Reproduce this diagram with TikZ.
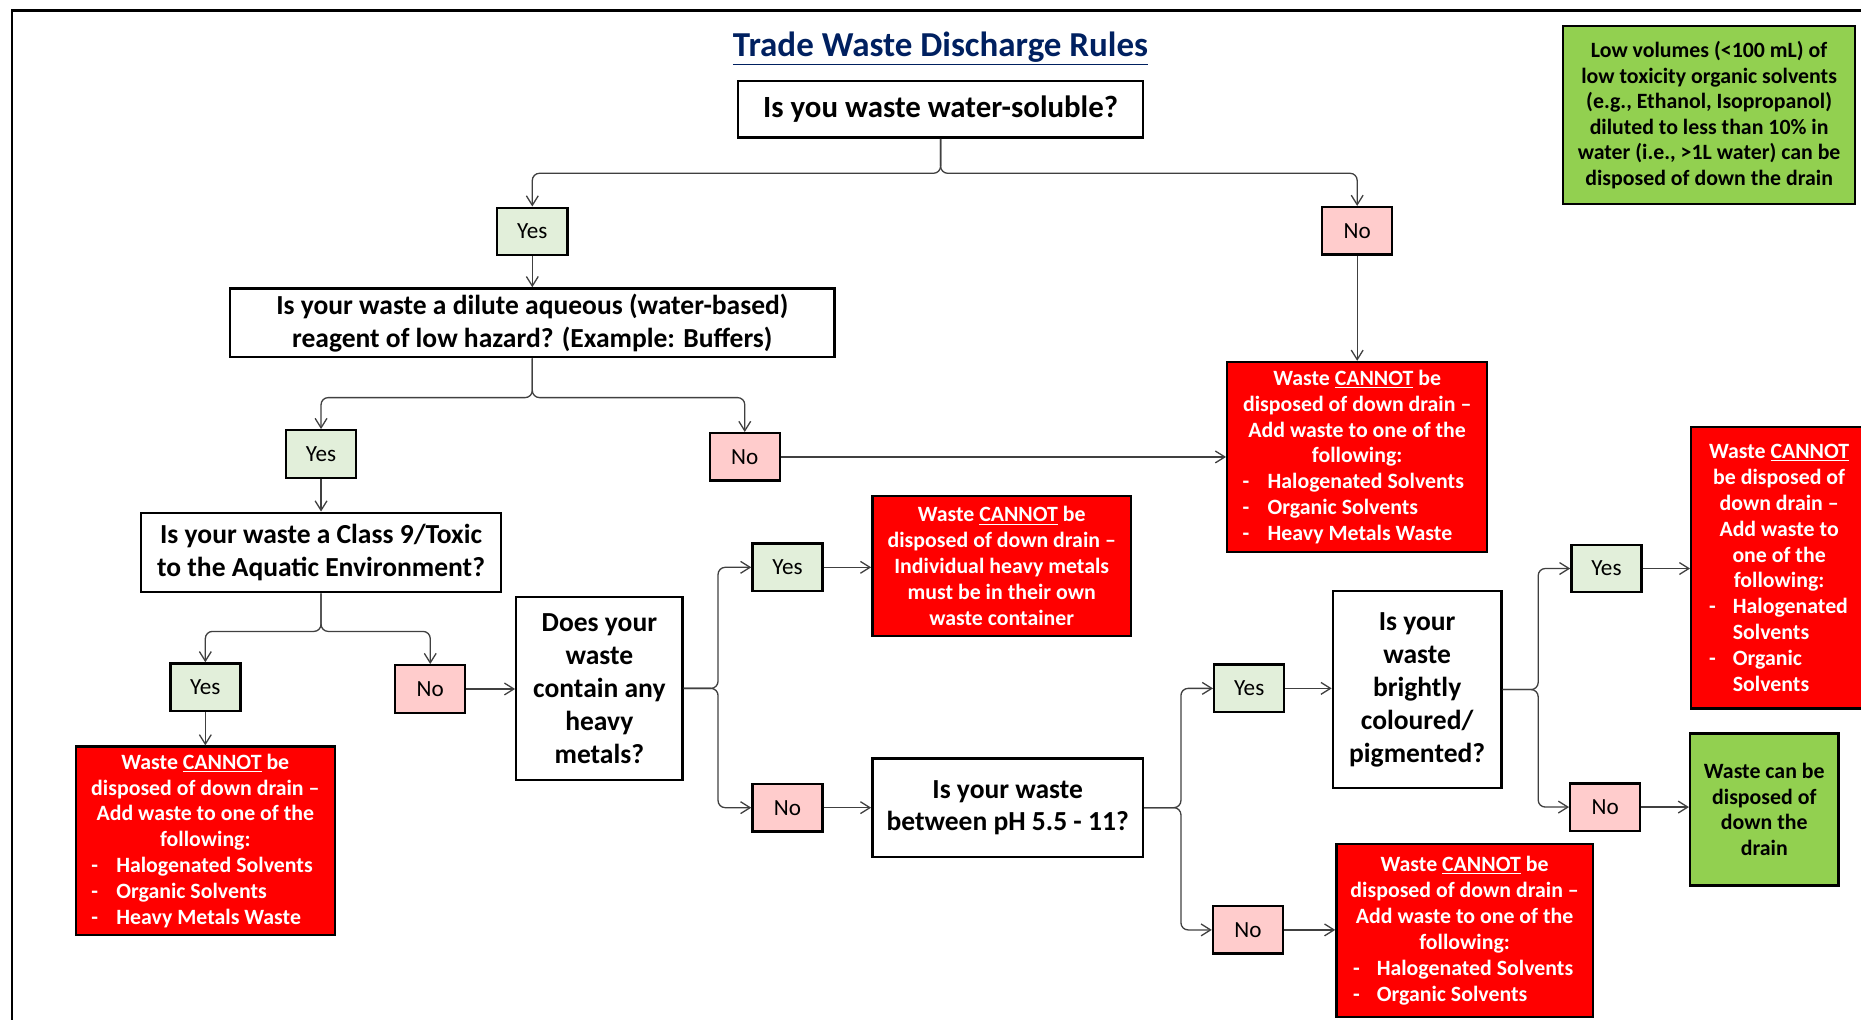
\documentclass[tikz,border=0pt]{standalone}
\usepackage{fontspec}
\setmainfont{Carlito}
\usetikzlibrary{arrows.meta,calc}
\definecolor{navy}{RGB}{0,32,96}
\definecolor{yesfill}{RGB}{226,239,218}
\definecolor{nofill}{RGB}{255,204,204}
\definecolor{grn}{RGB}{146,208,80}
\definecolor{connc}{RGB}{64,64,64}
\newcommand\qf{\fontsize{23.2}{27.5}\selectfont\bfseries}
\newcommand\qtf{\fontsize{23.2}{27.8}\selectfont\bfseries}
\newcommand\rf{\fontsize{18.4}{21.8}\selectfont\bfseries}
\newcommand\gf{\fontsize{18.4}{21.5}\selectfont\bfseries}
\newcommand\ynf{\fontsize{19.5}{22}\selectfont}
\newcommand\ritem[3]{\makebox[#1][l]{\hspace{#2}#3}}
\begin{document}
\begin{tikzpicture}[x=1pt,y=-1pt,
 box/.style={draw=black, line width=2pt, inner sep=0pt, align=center},
 qbox/.style={box, fill=white, font=\qf},
 yesbox/.style={box, fill=yesfill, font=\ynf, minimum width=59pt, minimum height=40pt},
 nobox/.style={box, fill=nofill, font=\ynf, minimum width=59pt, minimum height=40pt},
 redbox/.style={box, fill=red, text=white, font=\rf},
 grnbox/.style={box, fill=grn, text=black, font=\gf},
 conn/.style={draw=connc, line width=1.1pt, -{Straight Barb[length=8pt,width=10pt]}},
 brace/.style={conn, rounded corners=6pt}]
\useasboundingbox (0,0) rectangle (1568,859);
\begin{scope}
\clip (0,0) rectangle (1568,859);
\draw[line width=2pt] (10,880) -- (10,9) -- (1590,9);

\node[font=\fontsize{29.5}{34}\selectfont\bfseries, text=navy] (title) at (792.5,41) {\underline{Trade Waste Discharge Rules}};

\node[qbox, font=\fontsize{26}{30}\selectfont\bfseries, minimum width=341pt, minimum height=48pt] (q1) at (792.5,92) {Is you waste water-soluble?};
\node[yesbox] (y1) at (448.5,195) {Yes};
\node[nobox] (n1) at (1143.5,194.5) {No};
\node[qbox, minimum width=509pt, minimum height=58pt] (q2) at (448.5,272) {Is your waste a dilute aqueous (water-based)\\reagent of low hazard? (Example: Buffers)};
\node[redbox, minimum width=219pt, minimum height=160pt] (r1) at (1143.5,385) {Waste \underline{CANNOT} be\\disposed of down drain –\\Add waste to one of the\\following:\\\ritem{207pt}{7pt}{\makebox[21pt][l]{-}Halogenated Solvents}\\\ritem{207pt}{7pt}{\makebox[21pt][l]{-}Organic Solvents}\\\ritem{207pt}{7pt}{\makebox[21pt][l]{-}Heavy Metals Waste}};

\node[yesbox] (y2) at (270.5,382.5) {Yes};
\node[nobox] (n2) at (627.5,385) {No};
\node[qbox, minimum width=303pt, minimum height=67pt] (q3) at (270.5,465.5) {Is your waste a Class 9/Toxic\\to the Aquatic Environment?};
\node[yesbox] (y3) at (173,579) {Yes};
\node[nobox] (n3) at (362.5,580.5) {No};
\node[redbox, minimum width=218pt, minimum height=159pt] (r2) at (173,708.5) {Waste \underline{CANNOT} be\\disposed of down drain –\\Add waste to one of the\\following:\\\ritem{206pt}{7pt}{\makebox[21pt][l]{-}Halogenated Solvents}\\\ritem{206pt}{7pt}{\makebox[21pt][l]{-}Organic Solvents}\\\ritem{206pt}{7pt}{\makebox[21pt][l]{-}Heavy Metals Waste}};

\node[qbox, font=\qtf, minimum width=140pt, minimum height=154pt] (q4) at (505,580) {Does your\\waste\\contain any\\heavy\\metals?};
\node[yesbox] (y4) at (663.5,478) {Yes};
\node[nobox] (n4) at (663.5,680.5) {No};
\node[redbox, minimum width=218pt, minimum height=118pt] (r3) at (844,477) {Waste \underline{CANNOT} be\\disposed of down drain –\\Individual heavy metals\\must be in their own\\waste container};

\node[qbox, minimum width=228pt, minimum height=83pt] (q5) at (849,680.5) {Is your waste\\between pH 5.5 - 11?};
\node[yesbox] (y5) at (1052.5,580) {Yes};
\node[nobox] (n5) at (1051.5,783.5) {No};
\node[qbox, font=\qtf, minimum width=142pt, minimum height=166pt] (q6) at (1194,581) {Is your\\waste\\brightly\\coloured/\\pigmented?};
\node[redbox, minimum width=216pt, minimum height=146pt] (r4) at (1234,784) {Waste \underline{CANNOT} be\\disposed of down drain –\\Add waste to one of the\\following:\\\ritem{204pt}{8pt}{\makebox[20pt][l]{-}Halogenated Solvents}\\\ritem{204pt}{8pt}{\makebox[20pt][l]{-}Organic Solvents}};

\node[yesbox] (y6) at (1353.5,479) {Yes};
\node[nobox] (n6) at (1352.5,680) {No};
\node[redbox, minimum width=148pt, minimum height=237pt] (r5) at (1499,478.5) {Waste \underline{CANNOT}\\be disposed of\\down drain –\\Add waste to\\one of the\\following:\\\ritem{136pt}{9pt}{\makebox[20pt][l]{-}Halogenated}\\\ritem{136pt}{29pt}{Solvents}\\\ritem{136pt}{9pt}{\makebox[20pt][l]{-}Organic}\\\ritem{136pt}{29pt}{Solvents}};
\node[grnbox, minimum width=125pt, minimum height=128pt] (g1) at (1486.5,682) {Waste can be\\disposed of\\down the\\drain};
\node[grnbox, minimum width=246pt, minimum height=150pt] (g0) at (1440,97) {Low volumes (<100 mL) of\\low toxicity organic solvents\\(e.g., Ethanol, Isopropanol)\\diluted to less than 10\% in\\water (i.e., >1L water) can be\\disposed of down the drain};

\draw[brace] (q1.south) -- ++(0,29) -| (y1.north);
\draw[brace] (q1.south) -- ++(0,29) -| (n1.north);
\draw[conn] (y1.south) -- (y1.south |- q2.north);
\draw[conn] (n1.south) -- (n1.south |- r1.north);
\draw[brace] (q2.south) -- ++(0,33) -| (y2.north);
\draw[brace] (q2.south) -- ++(0,33) -| (n2.north);
\draw[conn] (n2.east) -- (n2.east -| r1.west);
\draw[conn] (y2.south) -- (y2.south |- q3.north);
\draw[brace] (q3.south) -- ++(0,32) -| (y3.north);
\draw[brace] (q3.south) -- ++(0,32) -| (n3.north);
\draw[conn] (y3.south) -- (y3.south |- r2.north);
\draw[conn] (n3.east) -- (n3.east -| q4.west);
\draw[brace] (q4.east) -- ++(29,0) |- (y4.west);
\draw[brace] (q4.east) -- ++(29,0) |- (n4.west);
\draw[conn] (y4.east) -- (y4.east -| r3.west);
\draw[conn] (n4.east) -- (n4.east -| q5.west);
\draw[brace] (q5.east) -- ++(31,0) |- (y5.west);
\draw[brace] (q5.east) -- ++(31,0) |- (n5.west);
\draw[conn] (y5.east) -- (y5.east -| q6.west);
\draw[conn] (n5.east) -- (n5.east -| r4.west);
\draw[brace] (q6.east) -- ++(30,0) |- (y6.west);
\draw[brace] (q6.east) -- ++(30,0) |- (n6.west);
\draw[conn] (y6.east) -- (y6.east -| r5.west);
\draw[conn] (n6.east) -- (n6.east -| g1.west);
\end{scope}
\end{tikzpicture}
\end{document}
